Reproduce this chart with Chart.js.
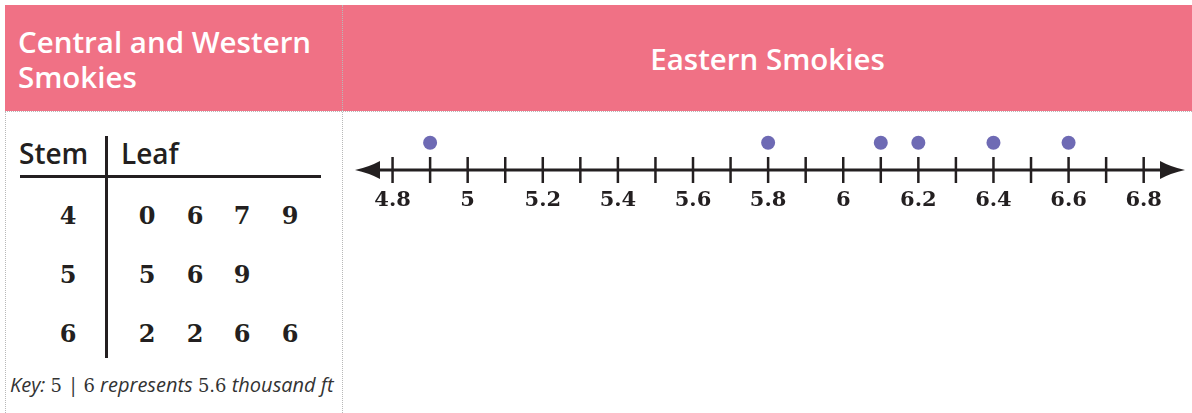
<!DOCTYPE html>
<html>
<head>
<meta charset="utf-8">
<script src="https://cdn.jsdelivr.net/npm/chart.js@4.4.1/dist/chart.umd.min.js"></script>
<style>
  body { margin: 0; width: 1192px; height: 413px; position: relative; overflow: hidden; background: #fff; font-family: "Open Sans", sans-serif; color: #231f20; }
  .header { position: absolute; top: 5px; left: 5px; width: 1187px; height: 106px; background: #f07185; }
  .htext { position: absolute; color: #fff; font-size: 29.5px; font-weight: 600; line-height: 35px; }
  .vline { position: absolute; border-left: 1px dotted #b8b8b8; }
  .hline { position: absolute; border-top: 1px dotted #b8b8b8; }
  .cell { position: absolute; font-family: "DejaVu Serif", serif; font-weight: bold; font-size: 24px; transform: translate(-50%, -50%); }
  .lbl { position: absolute; font-size: 28px; font-weight: 600; line-height: 36px; }
  .key { position: absolute; left: 10px; top: 371px; font-size: 20px; font-style: italic; color: #333; white-space: nowrap; }
  .key .m { font-family: "DejaVu Serif", serif; font-style: normal; font-size: 18px; }
  #wrap { position: absolute; left: 343px; top: 112px; width: 849px; height: 301px; }
</style>
</head>
<body>
<div class="header"></div>
<div class="htext" style="left:18px; top:24px;">Central and Western<br>Smokies</div>
<div class="htext" style="left:343px; width:849px; top:41px; text-align:center;">Eastern Smokies</div>
<div class="vline" style="left:5px; top:111px; height:302px;"></div>
<div class="vline" style="left:342px; top:5px; height:408px;"></div>
<div class="hline" style="left:5px; top:111px; width:1187px;"></div>

<div class="lbl" style="left:19px; top:135px;">Stem</div>
<div class="lbl" style="left:121px; top:135px;">Leaf</div>
<div style="position:absolute; left:20px; top:175px; width:301px; height:3px; background:#231f20;"></div>
<div style="position:absolute; left:105px; top:136px; width:3px; height:222px; background:#231f20;"></div>
<div id="stemleaf"></div>
<div class="key">Key: <span class="m">5</span> | <span class="m">6</span> represents <span class="m">5.6</span> thousand ft</div>

<div id="wrap"><canvas id="dotPlot"></canvas></div>

<script>
// Stem-and-leaf data (Central and Western Smokies)
const stems = [4, 5, 6];
const leaves = [[0, 6, 7, 9], [5, 6, 9], [2, 2, 6, 6]];

// Dot plot data (Eastern Smokies), thousand ft
const easternHeights = [4.9, 5.8, 6.1, 6.2, 6.4, 6.6];
const labelTicks = [4.8, 5.0, 5.2, 5.4, 5.6, 5.8, 6.0, 6.2, 6.4, 6.6, 6.8];
const minorTicks = [4.8, 4.9, 5.0, 5.1, 5.2, 5.3, 5.4, 5.5, 5.6, 5.7, 5.8,
                    5.9, 6.0, 6.1, 6.2, 6.3, 6.4, 6.5, 6.6, 6.7, 6.8];

// build the stem-and-leaf table
const rowY = [215, 274, 333];
const leafX = [147, 195, 242, 290];
const sl = document.getElementById('stemleaf');
stems.forEach((s, i) => {
    let d = document.createElement('div');
    d.className = 'cell';
    d.style.left = '68px';
    d.style.top = rowY[i] + 'px';
    d.textContent = s;
    sl.appendChild(d);
    leaves[i].forEach((l, j) => {
        d = document.createElement('div');
        d.className = 'cell';
        d.style.left = leafX[j] + 'px';
        d.style.top = rowY[i] + 'px';
        d.textContent = l;
        sl.appendChild(d);
    });
});

// number line: axis with arrows and crossing tick marks
const numberLine = {
    id: 'numberLine',
    beforeDatasetsDraw(chart) {
        const { ctx, chartArea } = chart;
        const x = chart.scales.x;
        const y = chartArea.bottom;
        const left = chartArea.left, right = chartArea.right;
        ctx.save();
        ctx.strokeStyle = '#231f20';
        ctx.fillStyle = '#231f20';
        ctx.lineWidth = 3;
        ctx.beginPath();
        ctx.moveTo(left + 15, y);
        ctx.lineTo(right - 15, y);
        ctx.stroke();
        // arrow heads
        ctx.beginPath();
        ctx.moveTo(left, y);
        ctx.quadraticCurveTo(left + 14, y - 3, left + 25, y - 9);
        ctx.lineTo(left + 25, y + 9);
        ctx.quadraticCurveTo(left + 14, y + 3, left, y);
        ctx.fill();
        ctx.beginPath();
        ctx.moveTo(right, y);
        ctx.quadraticCurveTo(right - 14, y - 3, right - 25, y - 9);
        ctx.lineTo(right - 25, y + 9);
        ctx.quadraticCurveTo(right - 14, y + 3, right, y);
        ctx.fill();
        ctx.lineWidth = 2.5;
        minorTicks.forEach(v => {
            const px = x.getPixelForValue(v);
            ctx.beginPath();
            ctx.moveTo(px, y - 13);
            ctx.lineTo(px, y + 13);
            ctx.stroke();
        });
        ctx.restore();
    }
};

new Chart(document.getElementById('dotPlot'), {
    type: 'scatter',
    data: {
        datasets: [{
            data: easternHeights.map(v => ({ x: v, y: 1 })),
            pointRadius: 7,
            pointHoverRadius: 7,
            pointBackgroundColor: '#6e6ab4',
            pointBorderWidth: 0,
            clip: false
        }]
    },
    options: {
        responsive: true,
        maintainAspectRatio: false,
        animation: false,
        events: [],
        layout: { padding: { left: 12, right: 2, top: 0, bottom: 183 } },
        plugins: { legend: { display: false }, tooltip: { enabled: false } },
        scales: {
            x: {
                type: 'linear',
                min: 4.7,
                max: 6.91,
                grid: { display: false, drawTicks: false },
                border: { display: false },
                afterBuildTicks: axis => { axis.ticks = labelTicks.map(v => ({ value: v })); },
                afterFit: axis => { axis.height = 60; },
                ticks: {
                    autoSkip: false,
                    maxRotation: 0,
                    padding: 18,
                    color: '#231f20',
                    font: { family: 'DejaVu Serif', weight: 'bold', size: 21 },
                    callback: v => String(Number(v.toFixed(1)))
                }
            },
            y: { display: false, min: -0.15, max: 2 }
        }
    },
    plugins: [numberLine]
});
</script>
</body>
</html>
